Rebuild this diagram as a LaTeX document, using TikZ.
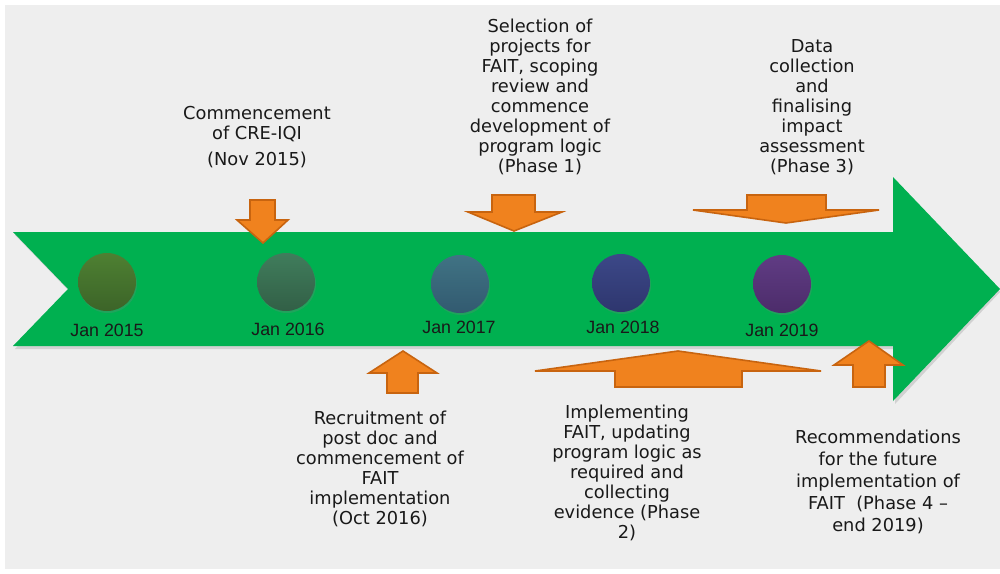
\documentclass[tikz,border=0pt]{standalone}
\usepackage{fontspec}
\setmainfont{DejaVu Sans}
\newfontfamily\datefont{Liberation Sans}
\usetikzlibrary{shadows}
\definecolor{bggray}{HTML}{EEEEEE}
\definecolor{arrgreen}{HTML}{00B050}
\definecolor{orfill}{HTML}{F0821E}
\definecolor{oredge}{HTML}{C8640F}
\tikzset{
  orarrow/.style={fill=orfill, draw=oredge, line width=0.8pt, line join=miter},
  evtext/.style={align=center, font=\fontsize{8.9}{10}\selectfont, text=black!90, inner sep=0pt},
  datelbl/.style={font=\datefont\fontsize{8.9}{10}\selectfont, text=black!90, inner sep=0pt},
  dot/.style={circle, minimum size=29pt, inner sep=0pt, drop shadow={opacity=0.25, shadow xshift=0.5pt, shadow yshift=-1pt}},
}
\begin{document}
\begin{tikzpicture}[x=0.5pt,y=-0.5pt]
\useasboundingbox (0,0) rectangle (1000,573);
\fill[white] (0,0) rectangle (1000,573);
\fill[bggray] (5,5) rectangle (1000,569);
% green timeline arrow with soft shadow
\fill[black, opacity=0.12] (15,235) -- (895,235) -- (895,180) -- (1000,292) -- (895,404) -- (895,349) -- (15,349) -- (70,292) -- cycle;
\fill[arrgreen] (13,232) -- (893,232) -- (893,177) -- (1000,289) -- (893,401) -- (893,346) -- (13,346) -- (68,289) -- cycle;
% circles
\node[dot, top color={rgb,255:red,78;green,128;blue,50}, bottom color={rgb,255:red,60;green,100;blue,40}] (c15) at (107,282) {};
\node[dot, top color={rgb,255:red,64;green,125;blue,92}, bottom color={rgb,255:red,50;green,95;blue,70}] (c16) at (286,282) {};
\node[dot, top color={rgb,255:red,64;green,115;blue,132}, bottom color={rgb,255:red,50;green,90;blue,112}] (c17) at (460,284) {};
\node[dot, top color={rgb,255:red,60;green,72;blue,136}, bottom color={rgb,255:red,46;green,54;blue,110}] (c18) at (621,283) {};
\node[dot, top color={rgb,255:red,96;green,60;blue,132}, bottom color={rgb,255:red,76;green,44;blue,106}] (c19) at (782,284) {};
% date labels
\node[datelbl] (d15) at (107,330) {Jan 2015};
\node[datelbl] (d16) at (288,329) {Jan 2016};
\node[datelbl] (d17) at (459,327) {Jan 2017};
\node[datelbl] (d18) at (623,327) {Jan 2018};
\node[datelbl] (d19) at (782,330) {Jan 2019};
% orange arrows (down)
\draw[orarrow] (250,200) -- (275,200) -- (275,220) -- (288,220) -- (263,243) -- (237,220) -- (250,220) -- cycle;
\draw[orarrow] (492,195) -- (535,195) -- (535,212) -- (562,212) -- (514,231) -- (468,212) -- (492,212) -- cycle;
\draw[orarrow] (747,195) -- (826,195) -- (826,210) -- (879,210) -- (786,223) -- (693,210) -- (747,210) -- cycle;
% orange arrows (up)
\draw[orarrow] (387,393) -- (418,393) -- (418,373) -- (437,373) -- (403,351) -- (369,373) -- (387,373) -- cycle;
\draw[orarrow] (615,387) -- (742,387) -- (742,371) -- (821,371) -- (678,351) -- (535,371) -- (615,371) -- cycle;
\draw[orarrow] (853,387) -- (885,387) -- (885,365) -- (903,365) -- (869,341) -- (834,365) -- (853,365) -- cycle;
% texts
\node[evtext] (t1) at (257,124) {Commencement\\of CRE-IQI};
\node[evtext] (t1b) at (257,160) {(Nov 2015)};
\node[evtext] (t2) at (540,97) {Selection of\\projects for\\FAIT, scoping\\review and\\commence\\development of\\program logic\\(Phase 1)};
\node[evtext] (t3) at (812,107) {Data\\collection\\and\\finalising\\impact\\assessment\\(Phase 3)};
\node[evtext] (t4) at (380,469) {Recruitment of\\post doc and\\commencement of\\FAIT\\implementation\\(Oct 2016)};
\node[evtext] (t5) at (627,473) {Implementing\\FAIT, updating\\program logic as\\required and\\collecting\\evidence (Phase\\2)};
\node[evtext, font=\fontsize{8.9}{10.9}\selectfont] (t6) at (878,482) {Recommendations\\for the future\\implementation of\\FAIT~~(Phase 4 --\\end 2019)};
\end{tikzpicture}
\end{document}
